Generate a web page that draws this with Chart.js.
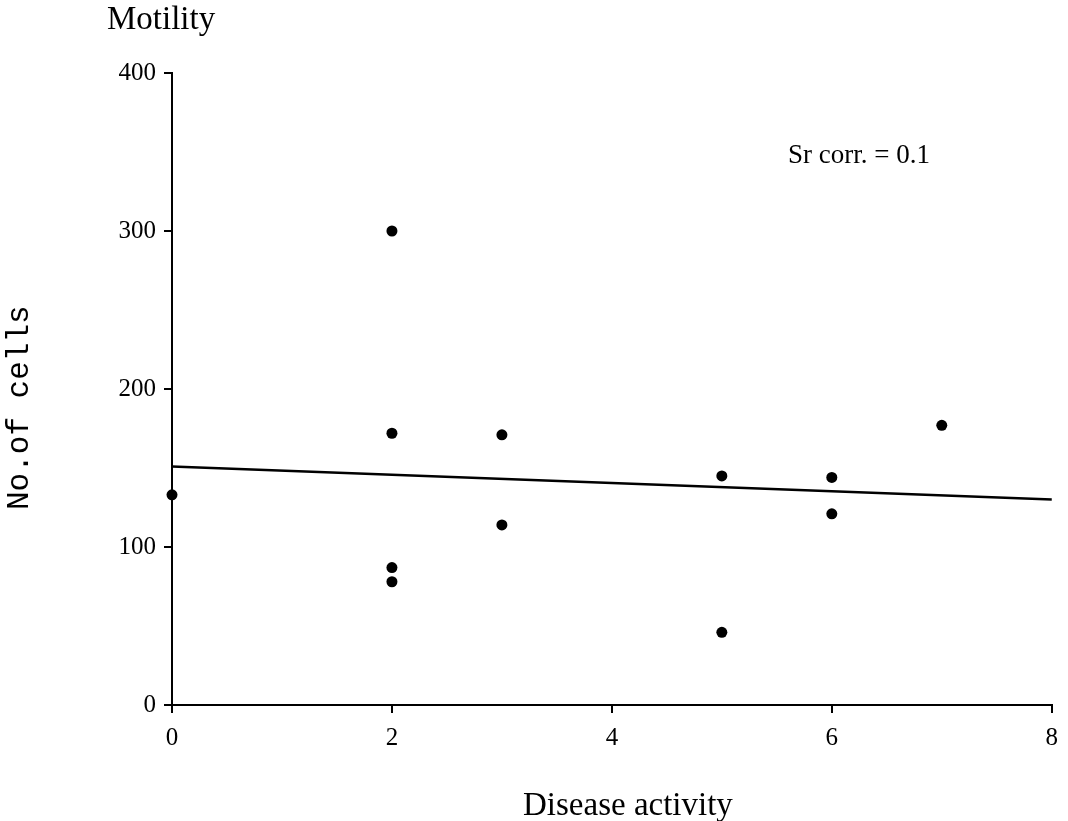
<!DOCTYPE html>
<html>
<head>
<meta charset="utf-8">
<script src="https://cdn.jsdelivr.net/npm/chart.js@4.4.1/dist/chart.umd.min.js"></script>
<style>
html,body{margin:0;padding:0;background:#fff;}
#wrap{width:1068px;height:821px;position:relative;}
</style>
</head>
<body>
<div id="wrap"><canvas id="c" width="1068" height="821"></canvas></div>
<script>
// Data
const diseaseActivity = [0, 2, 2, 2, 2, 3, 3, 5, 5, 6, 6, 7];
const cellCounts      = [133, 300, 172, 87, 78, 171, 114, 145, 46, 144, 121, 177];
const fitX = [0, 8];
const fitY = [151, 130];
const xTicks = [0, 2, 4, 6, 8];
const yTicks = [0, 100, 200, 300, 400];
const chartTitle = 'Motility';
const xTitle = 'Disease activity';
const yTitle = 'No.of cells';
const note = 'Sr corr. = 0.1';

const points = diseaseActivity.map((x, i) => ({x: x, y: cellCounts[i]}));
const fitLine = fitX.map((x, i) => ({x: x, y: fitY[i]}));

const textPlugin = {
  id: 'texts',
  afterDraw(chart) {
    const ctx = chart.ctx;
    ctx.save();
    ctx.fillStyle = '#000';
    ctx.textAlign = 'left';
    ctx.textBaseline = 'alphabetic';
    ctx.font = '33px "Liberation Serif", "Times New Roman", serif';
    ctx.fillText(chartTitle, 107, 29);
    ctx.font = '27px "Liberation Serif", "Times New Roman", serif';
    ctx.fillText(note, 788, 163);
    ctx.font = '33px "Liberation Serif", "Times New Roman", serif';
    ctx.fillText(xTitle, 523, 815);
    ctx.translate(28, 510);
    ctx.rotate(-Math.PI / 2);
    ctx.font = '31px "Liberation Mono", "Courier New", monospace';
    ctx.fillText(yTitle, 0, 0);
    ctx.restore();
  }
};

new Chart(document.getElementById('c'), {
  type: 'scatter',
  data: {
    datasets: [
      {
        data: points,
        clip: false,
        pointRadius: 5.5,
        pointHoverRadius: 5.5,
        pointBackgroundColor: '#000',
        pointBorderColor: '#000',
        pointBorderWidth: 0,
        showLine: false
      },
      {
        type: 'line',
        data: fitLine,
        clip: false,
        borderColor: '#000',
        borderWidth: 2.5,
        pointRadius: 0,
        fill: false,
        tension: 0
      }
    ]
  },
  options: {
    responsive: false,
    animation: false,
    events: [],
    layout: { padding: { top: 73, right: 13, bottom: 0, left: 0 } },
    plugins: { legend: { display: false }, tooltip: { enabled: false } },
    scales: {
      x: {
        type: 'linear',
        min: 0, max: 8,
        afterBuildTicks(scale) { scale.ticks = xTicks.map(v => ({value: v})); },
        afterFit(scale) { scale.height = 116; },
        grid: { drawOnChartArea: false, drawTicks: true, tickLength: 8, color: '#000', lineWidth: 2 },
        border: { display: true, color: '#000', width: 2 },
        ticks: { color: '#000', padding: 10, font: { family: '"Liberation Serif", "Times New Roman", serif', size: 25 }, maxRotation: 0 }
      },
      y: {
        type: 'linear',
        min: 0, max: 400,
        afterBuildTicks(scale) { scale.ticks = yTicks.map(v => ({value: v})); },
        afterFit(scale) { scale.width = 172; },
        grid: { drawOnChartArea: false, drawTicks: true, tickLength: 8, color: '#000', lineWidth: 2 },
        border: { display: true, color: '#000', width: 2 },
        ticks: { color: '#000', padding: 8, font: { family: '"Liberation Serif", "Times New Roman", serif', size: 25 } }
      }
    }
  },
  plugins: [textPlugin]
});
</script>
</body>
</html>
